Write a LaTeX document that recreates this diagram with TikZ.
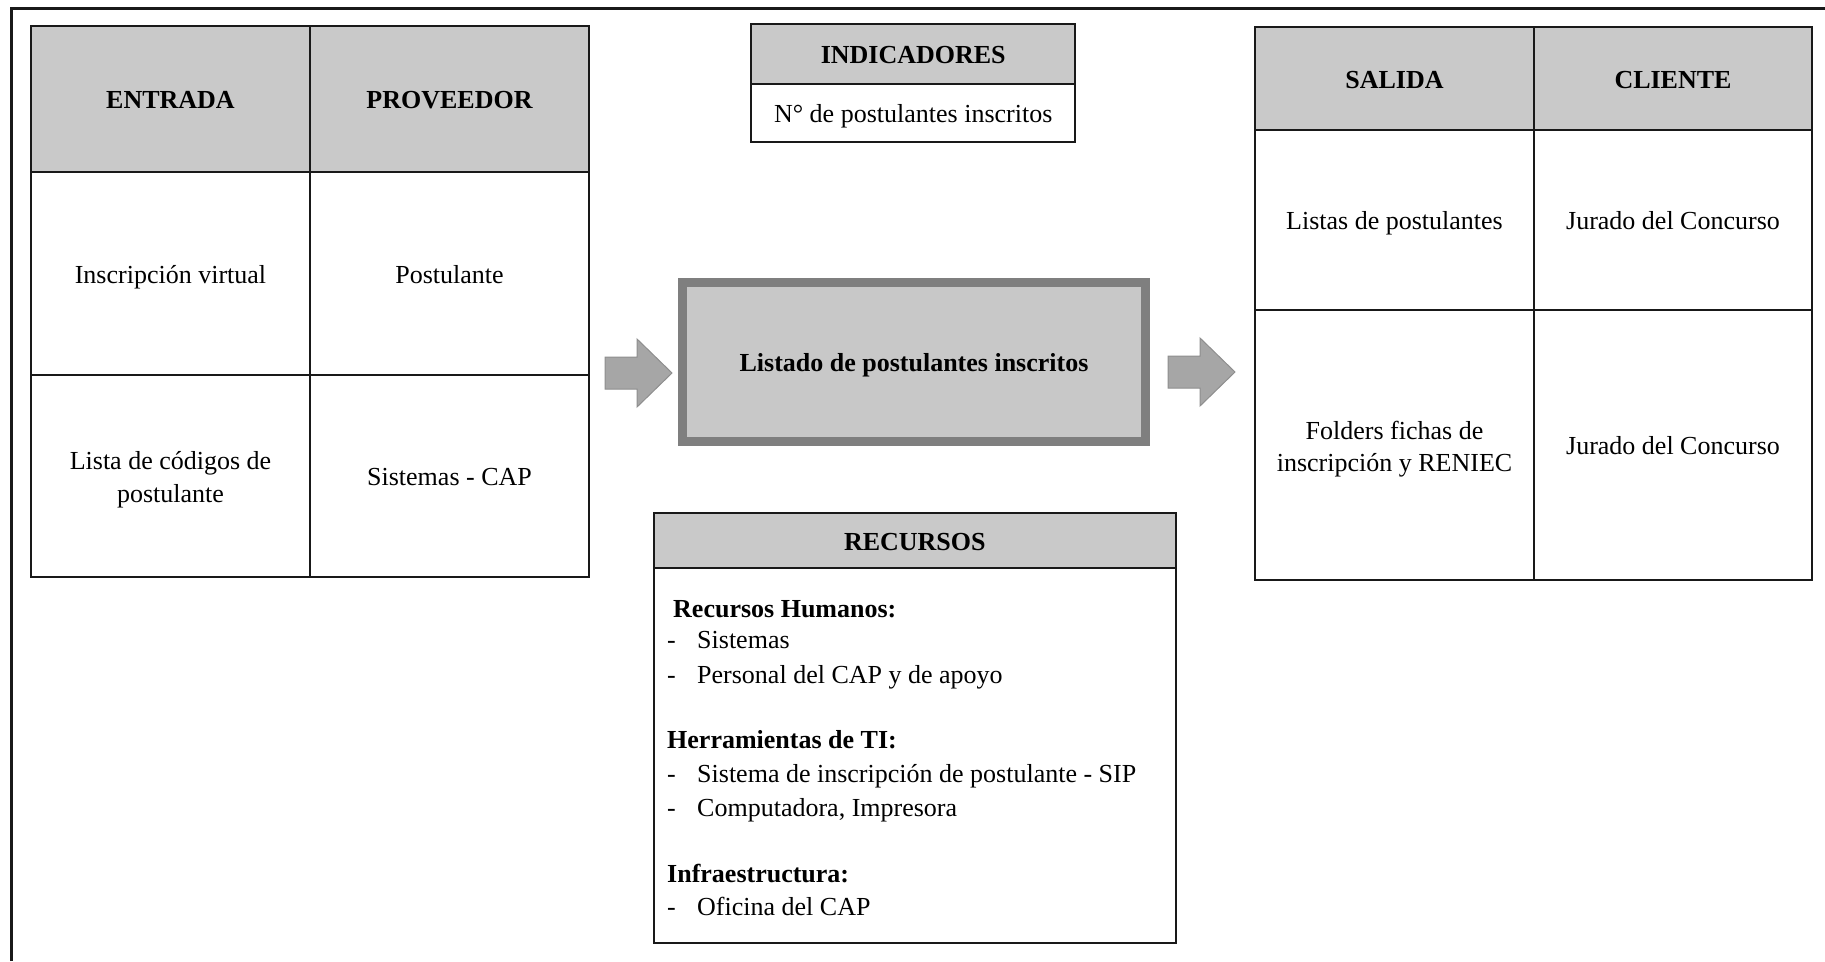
\documentclass[tikz,border=0pt]{standalone}
\usepackage{fontspec}
\setmainfont{Liberation Serif}
\definecolor{headgray}{HTML}{C9C9C9}
\definecolor{procborder}{HTML}{7F7F7F}
\definecolor{procfill}{HTML}{C8C8C8}
\definecolor{arrowfill}{HTML}{A6A6A6}
\definecolor{arrowline}{HTML}{8E8E8E}
\begin{document}
\begin{tikzpicture}[x=1pt,y=-1pt,
  txt/.style={font=\fontsize{26}{32.6}\selectfont},
  oneline/.style={text height=25pt, text depth=6pt},
  twoline/.style={yshift=-4pt},
  cell/.style={txt, draw=black!90, line width=2pt, rectangle, inner sep=0pt, align=center},
  headcell/.style={cell, oneline, fill=headgray, font=\fontsize{26}{32.6}\selectfont\bfseries},
  process/.style={rectangle, oneline, draw=procborder, fill=procfill, line width=9pt, inner sep=0pt,
    font=\fontsize{26}{32.6}\selectfont\bfseries},
  item/.style={txt, anchor=base west, inner sep=0pt},
  itemhead/.style={item, font=\fontsize{26}{32.6}\selectfont\bfseries},
  frame/.style={draw=black!90, line width=3pt},
  procarrow/.pic={
    \path[fill=arrowfill, draw=arrowline, line width=1pt, line join=miter]
      (0,-16) -- (32,-16) -- (32,-34) -- (67,0) -- (32,34) -- (32,16) -- (0,16) -- cycle;}
]
\useasboundingbox (0,0) rectangle (1825,961);

% page frame: top and left rules only
\coordinate (frameBL) at (11.3,961);
\coordinate (frameTL) at (11.3,8.3);
\coordinate (frameTR) at (1825,8.3);
\draw[frame] (frameBL) -- (frameTL) -- (frameTR);

% input / supplier table
\node[headcell, minimum width=279pt, minimum height=146pt] (entrada) at (170.5,99) {ENTRADA};
\node[headcell, minimum width=279pt, minimum height=146pt] (proveedor) at (449.5,99) {PROVEEDOR};
\node[cell, oneline, minimum width=279pt, minimum height=203pt] (in1) at (170.5,273.5) {Inscripción virtual};
\node[cell, oneline, minimum width=279pt, minimum height=203pt] (pr1) at (449.5,273.5) {Postulante};
\node[cell, minimum width=279pt, minimum height=202pt] (in2) at (170.5,476) {};
\node[txt, align=center, twoline] (in2t) at (in2.center) {Lista de códigos de\\postulante};
\node[cell, oneline, minimum width=279pt, minimum height=202pt] (pr2) at (449.5,476) {Sistemas - CAP};

% indicators
\node[headcell, minimum width=324.5pt, minimum height=59.6pt] (indh) at (913.2,54.2) {INDICADORES};
\node[cell, oneline, minimum width=324.5pt, minimum height=58pt] (indb) at (913.2,113) {N° de postulantes inscritos};

% process
\node[process, minimum width=463pt, minimum height=159pt] (proc) at (914,362) {Listado de postulantes inscritos};

% flow arrows
\pic at (605,373) {procarrow};
\pic at (1168,372) {procarrow};

% output / client table
\node[headcell, minimum width=279pt, minimum height=103pt] (salida) at (1394.5,78.5) {SALIDA};
\node[headcell, minimum width=278pt, minimum height=103pt] (cliente) at (1673,78.5) {CLIENTE};
\node[cell, oneline, minimum width=279pt, minimum height=180pt] (out1) at (1394.5,220) {Listas de postulantes};
\node[cell, oneline, minimum width=278pt, minimum height=180pt] (cl1) at (1673,220) {Jurado del Concurso};
\node[cell, minimum width=279pt, minimum height=270pt] (out2) at (1394.5,445) {};
\node[txt, align=center, twoline] (out2t) at (out2.center) {Folders fichas de\\inscripción y RENIEC};
\node[cell, oneline, minimum width=278pt, minimum height=270pt] (cl2) at (1673,445) {Jurado del Concurso};

% resources
\node[headcell, minimum width=521.5pt, minimum height=55pt] (rech) at (914.8,540.5) {RECURSOS};
\node[cell, minimum width=521.5pt, minimum height=375pt] (recb) at (914.8,755.5) {};

\node[itemhead] (rh) at (673,617) {Recursos Humanos:};
\node[item] (rh1d) at (667,648) {-};
\node[item] (rh1) at (697,648) {Sistemas};
\node[item] (rh2d) at (667,683) {-};
\node[item] (rh2) at (697,683) {Personal del CAP y de apoyo};
\node[itemhead] (ti) at (667,748) {Herramientas de TI:};
\node[item] (ti1d) at (667,782) {-};
\node[item] (ti1) at (697,782) {Sistema de inscripción de postulante - SIP};
\node[item] (ti2d) at (667,816) {-};
\node[item] (ti2) at (697,816) {Computadora, Impresora};
\node[itemhead] (inf) at (667,882) {Infraestructura:};
\node[item] (inf1d) at (667,915) {-};
\node[item] (inf1) at (697,915) {Oficina del CAP};
\end{tikzpicture}
\end{document}
